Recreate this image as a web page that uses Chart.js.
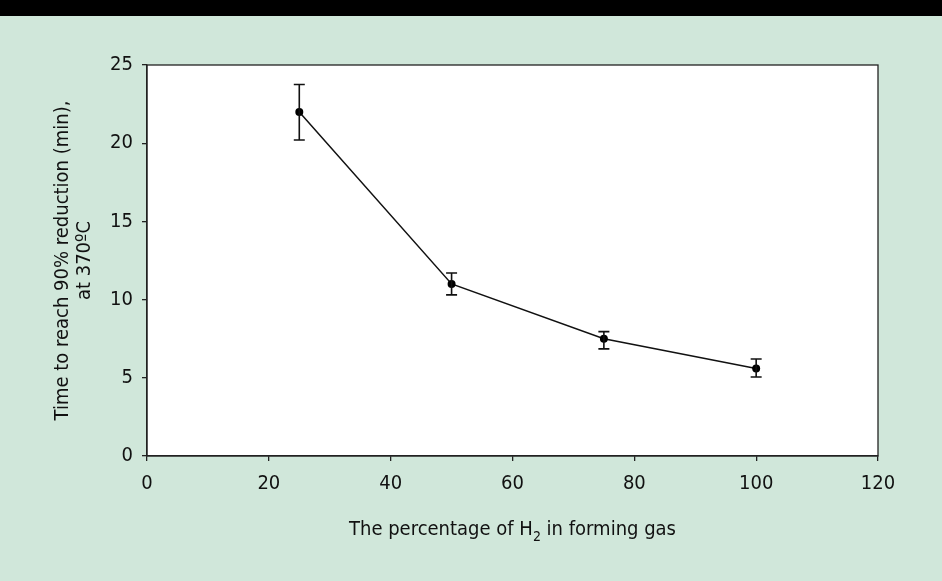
<!DOCTYPE html>
<html lang="en">
<head>
    <meta charset="UTF-8">
    <title>Reduction time vs H2 percentage</title>
    <script src="https://cdn.jsdelivr.net/npm/chart.js"></script>
    <style>
        body {
            margin: 0;
            background: #000;
            font-family: 'Liberation Sans Narrow', 'DejaVu Sans Condensed', sans-serif;
        }
        .topbar { height: 16px; background: #000; }
        .panel {
            width: 942px;
            height: 565px;
            background: #d0e7da;
        }
        #chart { display: block; }
    </style>
</head>
<body>
    <div class="topbar"></div>
    <div class="panel">
        <canvas id="chart" width="942" height="565"></canvas>
    </div>

    <script>
        // data
        const h2Percent = [25, 50, 75, 100];
        const timeTo90 = [22.0, 11.0, 7.5, 5.6];
        const errLow = [20.2, 10.3, 6.85, 5.05];
        const errHigh = [23.75, 11.7, 7.95, 6.2];
        const xTicks = [0, 20, 40, 60, 80, 100, 120];
        const yTicks = [0, 5, 10, 15, 20, 25];

        const FONT = "'Liberation Sans Narrow', 'DejaVu Sans Condensed', sans-serif";

        // white plot area + box frame
        const frame = {
            id: 'frame',
            beforeDraw(chart) {
                const a = chart.chartArea, ctx = chart.ctx;
                ctx.save();
                ctx.fillStyle = '#fff';
                ctx.fillRect(a.left, a.top, a.right - a.left, a.bottom - a.top);
                ctx.restore();
            },
            afterDraw(chart) {
                const a = chart.chartArea, ctx = chart.ctx;
                ctx.save();
                ctx.strokeStyle = '#222';
                ctx.lineWidth = 1.3;
                ctx.strokeRect(a.left, a.top, a.right - a.left, a.bottom - a.top);
                ctx.restore();
            }
        };

        // vertical error bars with caps
        const errorBars = {
            id: 'errorBars',
            afterDatasetsDraw(chart) {
                const x = chart.scales.x, y = chart.scales.y, ctx = chart.ctx;
                ctx.save();
                ctx.strokeStyle = '#111';
                ctx.lineWidth = 1.6;
                h2Percent.forEach((v, i) => {
                    const px = x.getPixelForValue(v);
                    const y1 = y.getPixelForValue(errLow[i]);
                    const y2 = y.getPixelForValue(errHigh[i]);
                    ctx.beginPath();
                    ctx.moveTo(px, y1); ctx.lineTo(px, y2);
                    ctx.moveTo(px - 5.5, y1); ctx.lineTo(px + 5.5, y1);
                    ctx.moveTo(px - 5.5, y2); ctx.lineTo(px + 5.5, y2);
                    ctx.stroke();
                });
                ctx.restore();
            }
        };

        // x title with a real subscript
        const xTitle = {
            id: 'xTitle',
            afterDraw(chart) {
                const a = chart.chartArea, ctx = chart.ctx;
                const parts = ['The percentage of H', '2', ' in forming gas'];
                const big = '20px ' + FONT, small = '14px ' + FONT;
                ctx.save();
                ctx.fillStyle = '#111';
                ctx.textBaseline = 'alphabetic';
                ctx.font = big; const w0 = ctx.measureText(parts[0]).width;
                ctx.font = small; const w1 = ctx.measureText(parts[1]).width;
                ctx.font = big; const w2 = ctx.measureText(parts[2]).width;
                let x = (a.left + a.right) / 2 - (w0 + w1 + w2) / 2;
                const base = 519;
                ctx.font = big; ctx.fillText(parts[0], x, base); x += w0;
                ctx.font = small; ctx.fillText(parts[1], x, base + 6); x += w1;
                ctx.font = big; ctx.fillText(parts[2], x, base);
                ctx.restore();
            }
        };

        new Chart(document.getElementById('chart'), {
            type: 'line',
            data: {
                datasets: [{
                    data: h2Percent.map((v, i) => ({ x: v, y: timeTo90[i] })),
                    borderColor: '#111',
                    borderWidth: 1.5,
                    backgroundColor: '#000',
                    pointRadius: 4,
                    pointBorderWidth: 0,
                    pointBackgroundColor: '#000',
                    tension: 0
                }]
            },
            options: {
                responsive: false,
                animation: false,
                layout: { padding: { left: 0, right: 64, top: 49, bottom: 64 } },
                plugins: { legend: { display: false }, tooltip: { enabled: false } },
                scales: {
                    x: {
                        type: 'linear',
                        min: 0, max: 120,
                        afterBuildTicks: s => { s.ticks = xTicks.map(v => ({ value: v })); },
                        afterFit: s => { s.height = 61; },
                        grid: { drawOnChartArea: false, drawTicks: true, tickLength: 5, color: '#222', lineWidth: 1.3 },
                        border: { color: '#222', width: 1.3 },
                        ticks: { color: '#111', font: { family: FONT, size: 20 }, padding: 11, maxRotation: 0 }
                    },
                    y: {
                        min: 0, max: 25,
                        afterBuildTicks: s => { s.ticks = yTicks.map(v => ({ value: v })); },
                        afterFit: s => { s.width = 147; },
                        grid: { drawOnChartArea: false, drawTicks: true, tickLength: 5, color: '#222', lineWidth: 1.3 },
                        border: { color: '#222', width: 1.3 },
                        ticks: { color: '#111', font: { family: FONT, size: 20 }, padding: 9 },
                        title: {
                            display: true,
                            text: ['Time to reach 90% reduction (min),', 'at 370ºC'],
                            color: '#111',
                            font: { family: FONT, size: 20, lineHeight: 1.1 },
                            padding: { top: 52, bottom: 0 }
                        }
                    }
                }
            },
            plugins: [frame, errorBars, xTitle]
        });
    </script>
</body>
</html>
